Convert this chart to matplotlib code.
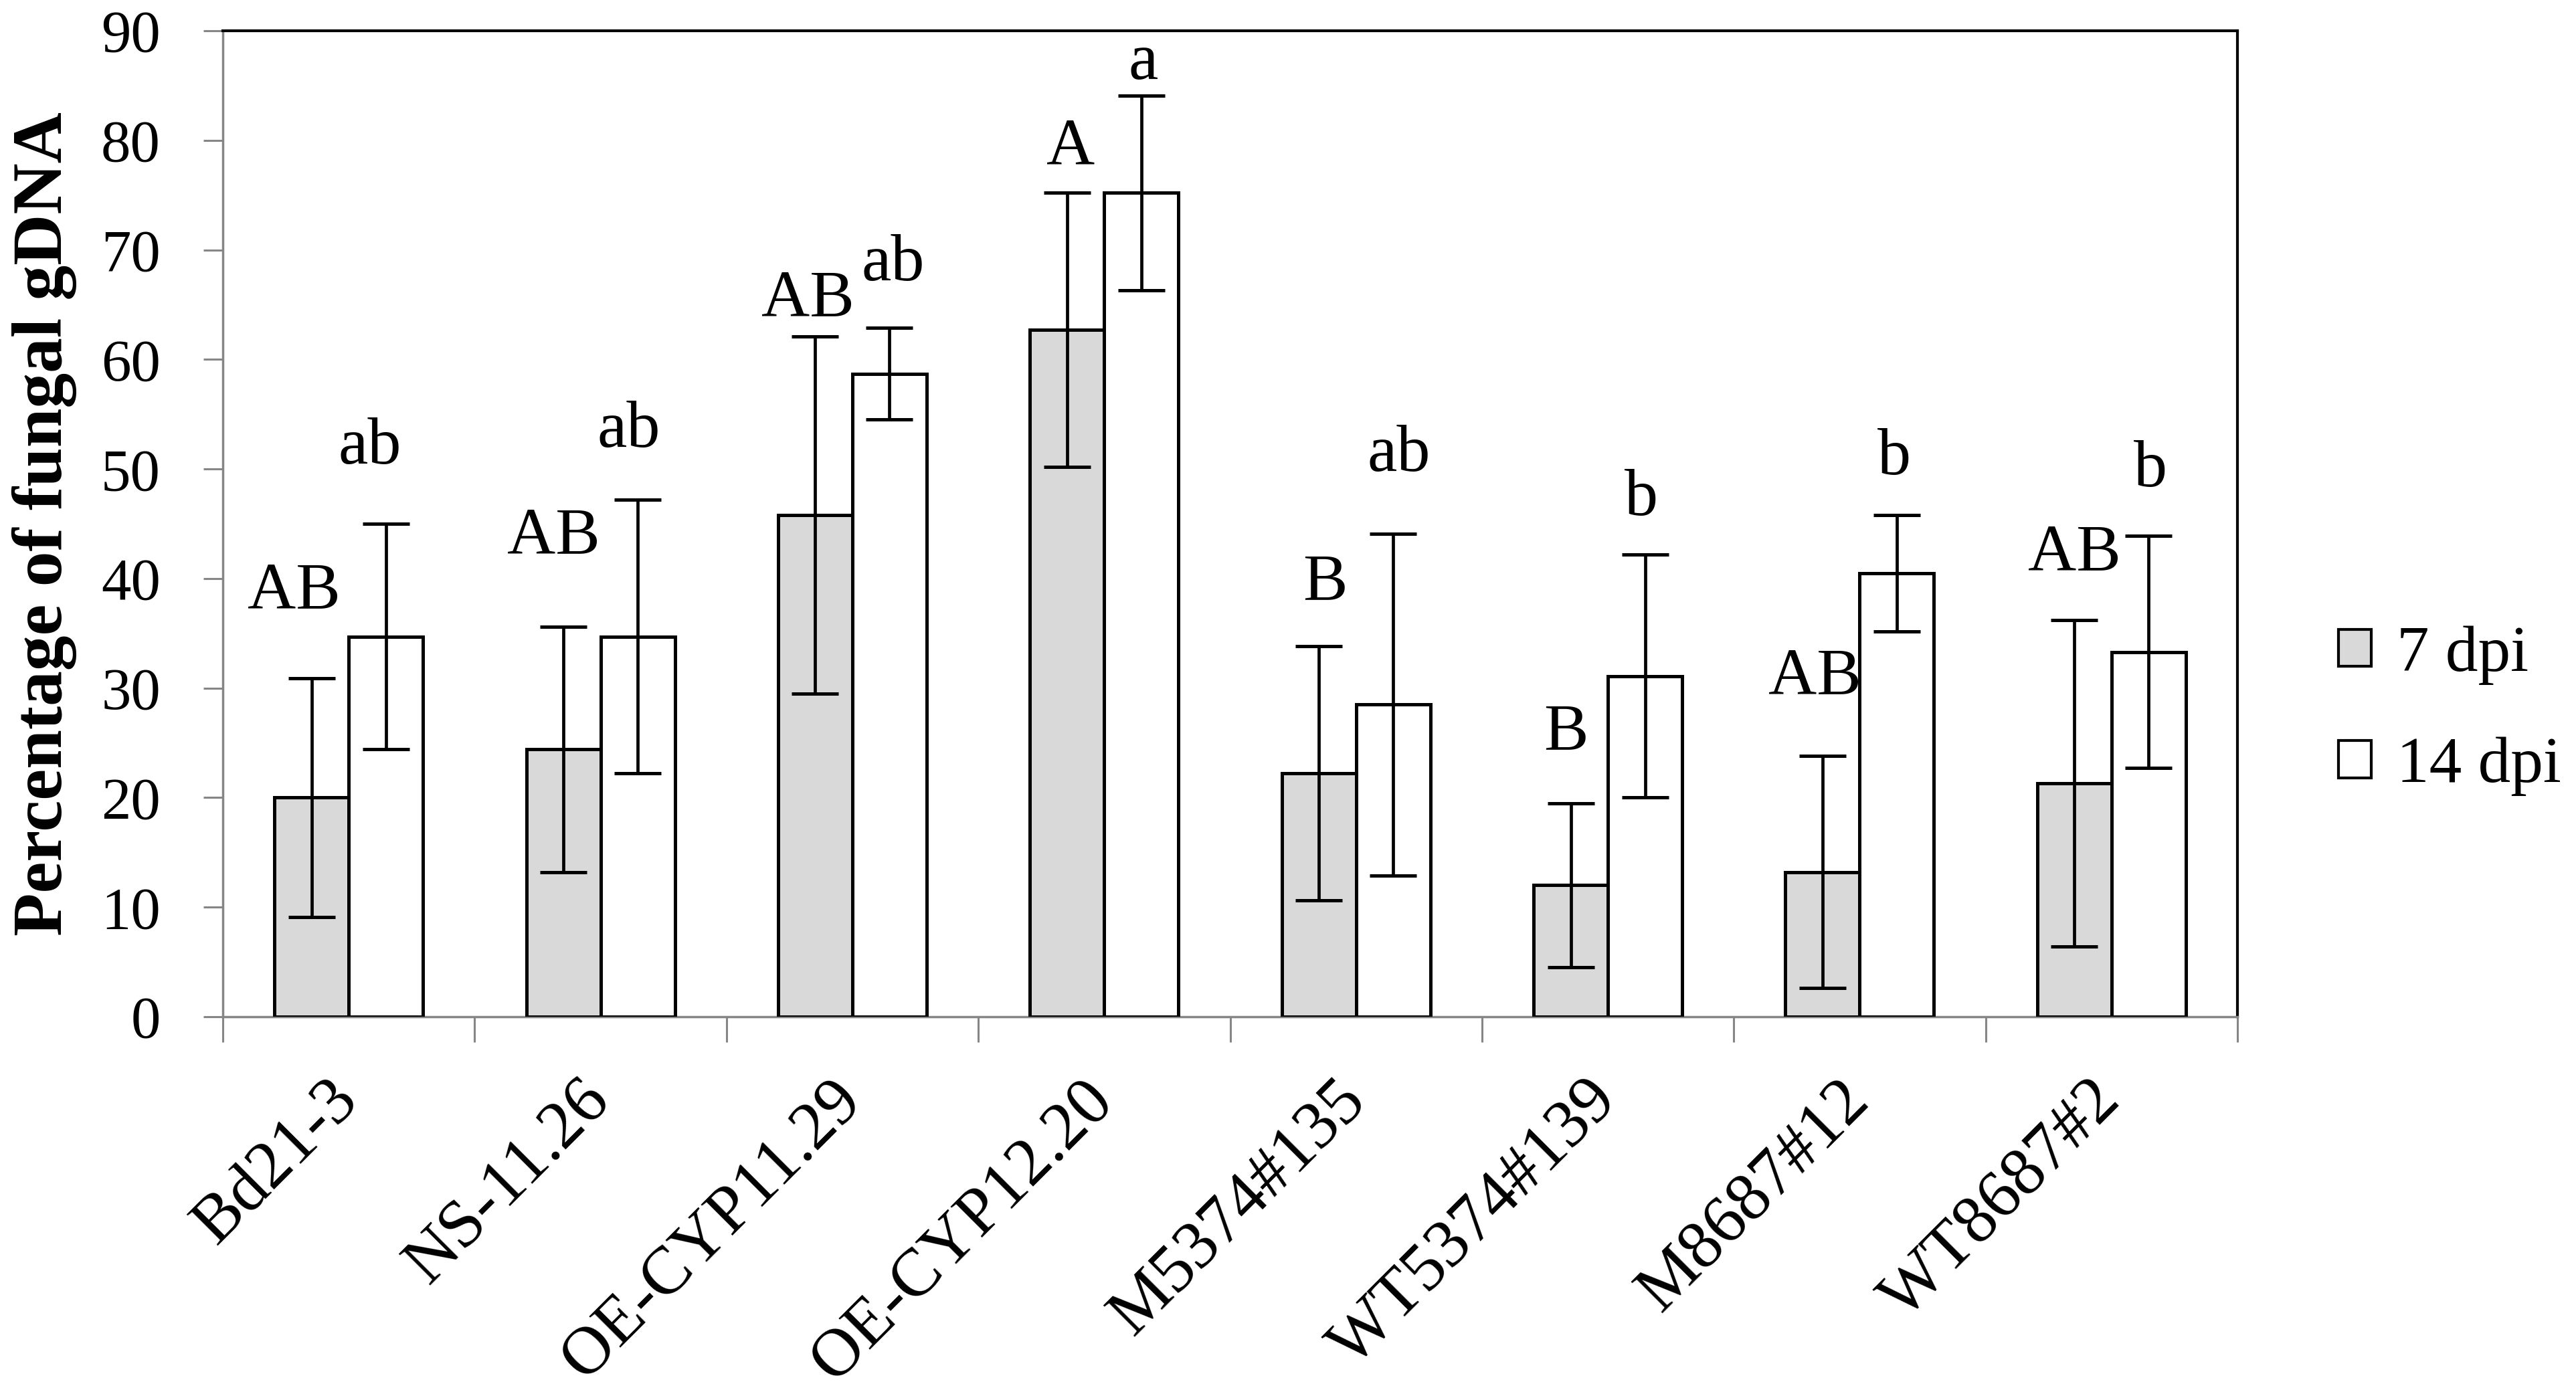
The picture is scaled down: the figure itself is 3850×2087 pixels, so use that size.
import matplotlib
matplotlib.use('Agg')
import matplotlib.pyplot as plt
import numpy as np
from matplotlib.patches import Patch

plt.rcParams['font.family'] = ['Liberation Serif', 'DejaVu Serif']

# ---------------- data ----------------
genotypes = ["Bd21-3", "NS-11.26", "OE-CYP11.29", "OE-CYP12.20",
             "M5374#135", "WT5374#139", "M8687#12", "WT8687#2"]
dpi7 = [20.0, 24.4, 45.8, 62.7, 22.2, 12.0, 13.2, 21.3]
dpi7_err = [10.9, 11.2, 16.3, 12.5, 11.6, 7.5, 10.6, 14.9]
dpi14 = [34.7, 34.7, 58.7, 75.2, 28.5, 31.1, 40.5, 33.3]
dpi14_err = [10.3, 12.5, 4.2, 8.9, 15.6, 11.1, 5.3, 10.6]
sig7 = ["AB", "AB", "AB", "A", "B", "B", "AB", "AB"]
sig14 = ["ab", "ab", "ab", "a", "ab", "b", "b", "b"]
series_names = ["7 dpi", "14 dpi"]
yticks = [0, 10, 20, 30, 40, 50, 60, 70, 80, 90]
ylabel = "Percentage of fungal gDNA"

# ---------------- layout (label placement) ----------------
sig7_y = [37.3, 42.3, 64.0, 77.8, 38.1, 24.4, 29.5, 40.8]
sig14_y = [50.5, 52.0, 67.2, 85.6, 49.8, 45.8, 49.5, 48.4]
sig7_dx = [-0.07, -0.04, -0.03, 0.015, 0.025, -0.02, -0.03, 0.0]
sig14_dx = [-0.065, -0.035, 0.015, 0.008, 0.023, -0.015, -0.01, 0.007]

W, H = 3850, 2087
fig = plt.figure(figsize=(W / 100, H / 100), dpi=100)
left, right, bottom, top = 333 / W, 3344 / W, 1 - 1520 / H, 1 - 46 / H
ax = fig.add_axes([left, bottom, right - left, top - bottom])

x = np.arange(len(genotypes))
bw = 0.295
grey = '#d9d9d9'
ekw = dict(ecolor='black', elinewidth=3.4, capsize=25, capthick=3.6)
ax.bar(x - bw / 2, dpi7, width=bw, color=grey, edgecolor='black', linewidth=3.6,
       yerr=dpi7_err, error_kw=ekw, zorder=3)
ax.bar(x + bw / 2, dpi14, width=bw, color='white', edgecolor='black', linewidth=3.6,
       yerr=dpi14_err, error_kw=ekw, zorder=3)

ax.set_xlim(-0.5, len(genotypes) - 0.5)
ax.set_ylim(0, 90)

axis_grey = '#868686'
for s in ['left', 'bottom']:
    ax.spines[s].set_color(axis_grey)
    ax.spines[s].set_linewidth(2.5)
for s in ['top', 'right']:
    ax.spines[s].set_color('black')
    ax.spines[s].set_linewidth(3)

ax.set_yticks(yticks)
ax.set_yticklabels([str(v) for v in yticks])
ax.tick_params(axis='y', direction='out', length=21, width=2.2, color=axis_grey,
               labelsize=64, pad=46)

ax.set_xticks(x)
ax.set_xticklabels(genotypes, rotation=45, ha='right', va='center',
                   rotation_mode='anchor', fontsize=73)
ax.tick_params(axis='x', which='major', length=0, pad=80)
ax.set_xticks(np.arange(-0.5, len(genotypes), 1), minor=True)
ax.tick_params(axis='x', which='minor', direction='out', length=27, width=2.2,
               color=axis_grey)

fig.text(66 / W, (bottom + top) / 2, ylabel, rotation=90, ha='center', va='center',
         fontsize=76, fontweight='bold')

for i in range(len(genotypes)):
    ax.text(x[i] - bw / 2 + sig7_dx[i], sig7_y[i], sig7[i], ha='center',
            va='baseline', fontsize=72, zorder=5)
    ax.text(x[i] + bw / 2 + sig14_dx[i], sig14_y[i], sig14[i], ha='center',
            va='baseline', fontsize=72, zorder=5)

handles = [Patch(facecolor=grey, edgecolor='black', linewidth=3),
           Patch(facecolor='white', edgecolor='black', linewidth=3)]
fig.legend(handles, series_names, loc='center left',
           bbox_to_anchor=(3495 / W, 1 - 1063 / H), frameon=False, fontsize=70,
           handlelength=0.5, handleheight=0.5, handletextpad=0.4,
           labelspacing=0.8, borderpad=0, borderaxespad=0)

fig.savefig('out.png', dpi=100)
